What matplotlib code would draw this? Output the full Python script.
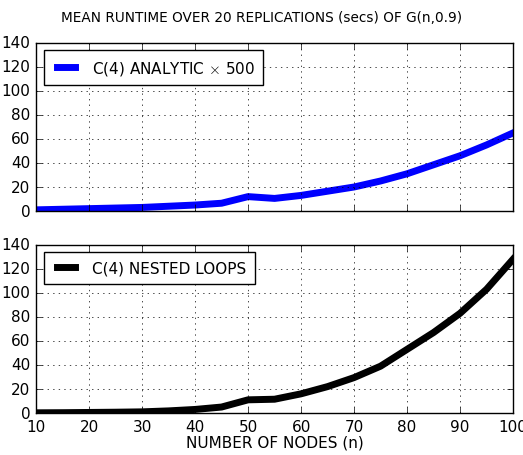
import matplotlib
matplotlib.use("Agg")
import matplotlib.pyplot as plt

plt.style.use("classic")

nodes = [10, 15, 20, 25, 30, 35, 40, 45, 50, 55, 60, 65, 70, 75, 80, 85, 90, 95, 100]
analytic_x500 = [1, 1.5, 2, 2.5, 3, 4, 5, 6.5, 12, 10.5, 13, 16.5, 20, 25, 31, 38.5, 46, 55, 65]
nested_loops = [0.2, 0.3, 0.5, 0.7, 1, 1.8, 3, 5, 11, 11.5, 16, 22, 29.5, 39, 53, 67, 83, 103, 128]

fig = plt.figure(figsize=(5.23, 4.56), dpi=100, facecolor="white")
ax1 = fig.add_axes([0.069, 0.535, 0.912, 0.369])
ax2 = fig.add_axes([0.069, 0.092, 0.912, 0.369], sharex=ax1)

ax1.plot(nodes, analytic_x500, color="blue", linewidth=5,
         label=r"C(4) ANALYTIC $\times$ 500")
ax2.plot(nodes, nested_loops, color="black", linewidth=5,
         label="C(4) NESTED LOOPS")

for ax in (ax1, ax2):
    ax.set_xlim(10, 100)
    ax.set_ylim(0, 140)
    ax.set_yticks(range(0, 141, 20))
    ax.grid(True)
    ax.tick_params(labelsize=11)
    ax.legend(loc="upper left", fontsize=11, handlelength=1.8,
              handletextpad=0.8, borderpad=0.55)

plt.setp(ax1.get_xticklabels(), visible=False)
ax2.set_xlabel("NUMBER OF NODES (n)", fontsize=11, labelpad=1)
fig.suptitle("MEAN RUNTIME OVER 20 REPLICATIONS (secs) OF G(n,0.9)",
             fontsize=9.8, y=0.975)

fig.savefig("out.png", dpi=100, facecolor="white")
